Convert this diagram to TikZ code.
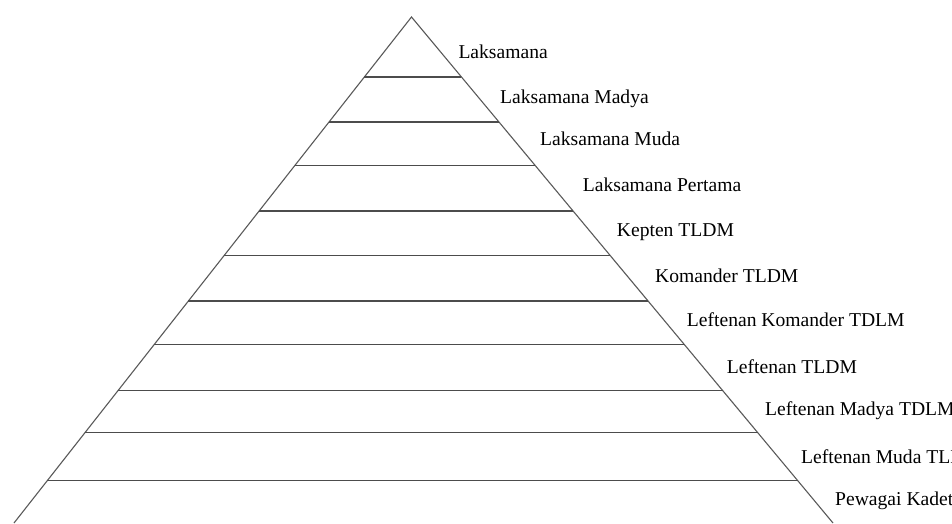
\documentclass[tikz,border=0pt]{standalone}
\usepackage{fontspec}
\setmainfont{Liberation Serif}
\usetikzlibrary{calc}
\begin{document}
\begin{tikzpicture}[x=1pt,y=-1pt,
  side/.style={draw=black!65, line width=1.1pt, line join=miter},
  rung/.style={draw=black!70, line width=1.9pt},
  rank/.style={anchor=base west, inner sep=0pt, font=\fontsize{19.6pt}{22pt}\selectfont}]
\clip (0,0) rectangle (952,523);
\coordinate (A) at (411.5,17);
\coordinate (BL) at (14,523);
\coordinate (BR) at (833,523);
\draw[side] (BL) -- (A) -- (BR);
\foreach \y [count=\i] in {77,122,165.5,211,255.5,301,344.5,390.5,432.5,480.5} {
  \coordinate (L\i) at ($(A)!{(\y-17)/506}!(BL)$);
  \coordinate (R\i) at ($(A)!{(\y-17)/506}!(BR)$);
  \draw[rung] (L\i) -- (R\i);
}
\node[rank] (r1) at (458.3,58.3) {Laksamana};
\node[rank] (r2) at (500,103.3) {Laksamana Madya};
\node[rank] (r3) at (540,145.7) {Laksamana Muda};
\node[rank] (r4) at (582.7,191.7) {Laksamana Pertama};
\node[rank] (r5) at (616.7,236.7) {Kepten TLDM};
\node[rank] (r6) at (655,282.7) {Komander TLDM};
\node[rank] (r7) at (686.7,326) {Leftenan Komander TDLM};
\node[rank] (r8) at (726.7,373) {Leftenan TLDM};
\node[rank] (r9) at (765,415) {Leftenan Madya TDLM};
\node[rank] (r10) at (801,463) {Leftenan Muda TLDM};
\node[rank] (r11) at (835,505) {Pewagai Kadet};
\end{tikzpicture}
\end{document}
